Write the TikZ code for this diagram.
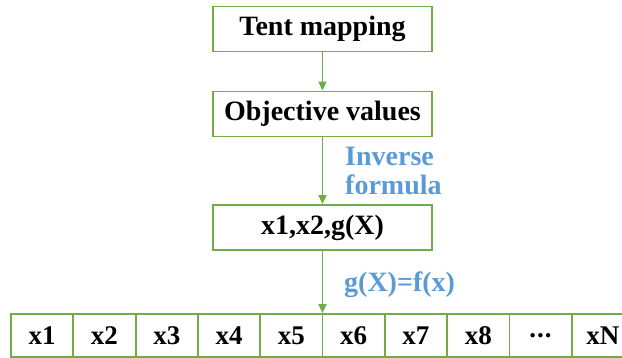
\documentclass[tikz,border=0pt]{standalone}
\usepackage{fontspec}
\setmainfont{Liberation Serif}
\usetikzlibrary{arrows.meta}
\definecolor{lgreen}{RGB}{112,173,71}
\definecolor{lblue}{RGB}{91,155,213}
\tikzset{
  box/.style={draw=lgreen, line width=1.8pt, minimum width=219pt, minimum height=45pt, inner sep=0pt,
    font=\fontsize{28}{32}\selectfont\bfseries},
  cell/.style={draw=lgreen, line width=1.8pt, minimum width=62.3pt, minimum height=43pt, inner sep=0pt,
    font=\fontsize{27}{30}\selectfont\bfseries},
  conn/.style={draw=lgreen, line width=1.8pt, -{Triangle[length=9pt,width=8pt]}},
  lbl/.style={text=lblue, font=\fontsize{28}{29}\selectfont\bfseries, align=left, inner sep=0pt, anchor=west}
}
\begin{document}
\begin{tikzpicture}[x=1pt,y=-1pt]
\useasboundingbox (0,0) rectangle (622,358);
\clip (0,0) rectangle (622,358);
\node[box] (b1) at (322.5,29) {Tent mapping};
\node[box] (b2) at (322.5,114) {Objective values};
\node[box] (b3) at (322.5,227.5) {x1,x2,g(X)};
\foreach \t [count=\i] in {x1,x2,x3,x4,x5,x6,x7,x8,{.\kern1pt.\kern1pt.},xN} {
  \node[cell] (c\i) at ({11+62.3*(\i-0.5)},335.5) {\t};
}
\draw[conn] (b1) -- (b2);
\draw[conn] (b2) -- (b3);
\draw[conn] (b3.south) -- (b3.south |- c5.north);
\node[lbl] (l1) at (345,171) {Inverse\\formula};
\node[lbl] (l2) at (344,285) {g(X)=f(x)};
\end{tikzpicture}
\end{document}
